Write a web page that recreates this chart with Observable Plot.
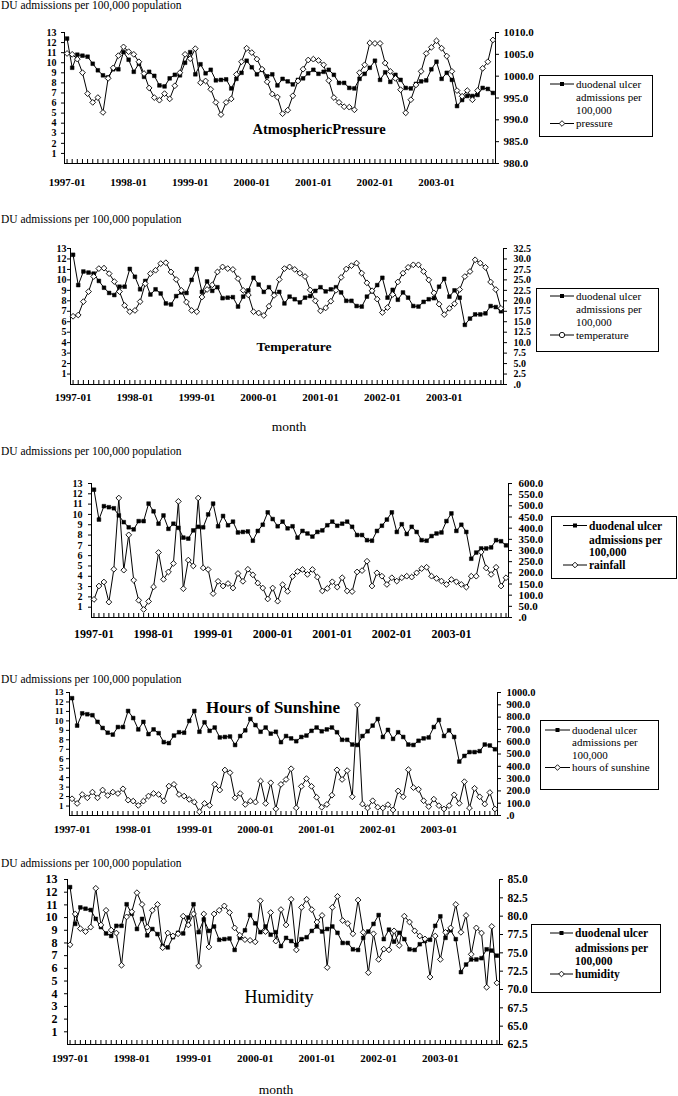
<!DOCTYPE html>
<html><head><meta charset="utf-8">
<script src="https://cdn.jsdelivr.net/npm/d3@7"></script>
<script src="https://cdn.jsdelivr.net/npm/@observablehq/plot@0.6"></script>
<style>
body{margin:0;background:#fff;}
#page{position:relative;width:678px;height:1096px;overflow:hidden;font-family:"Liberation Serif","Times New Roman",serif;color:#000;background:#fff;}
.abs{position:absolute;white-space:nowrap;line-height:1;}
</style></head><body><div id="page"></div>
<script>
// ---------- data ----------
const months = d3.range(84).map(i => `${1997 + Math.floor(i / 12)}-${String(i % 12 + 1).padStart(2, "0")}`);
const yearLabels = ["1997-01", "1998-01", "1999-01", "2000-01", "2001-01", "2002-01", "2003-01"];
const leftTicks = [1, 2, 3, 4, 5, 6, 7, 8, 9, 10, 11, 12, 13];

const duAdmissions = [
  12.4, 9.5, 10.8, 10.7, 10.6, 9.9, 9.25, 8.75, 8.55, 9.35, 9.35, 11.05,
  10.3, 9.1, 9.9, 8.6, 9.1, 8.7, 7.75, 7.65, 8.45, 8.8, 8.75, 10.0,
  11.05, 8.85, 9.85, 8.95, 9.3, 8.25, 8.3, 8.35, 7.45, 8.4, 9.0, 10.2,
  9.55, 8.85, 9.3, 8.65, 8.85, 7.75, 8.4, 8.15, 7.85, 8.3, 8.45, 8.95,
  9.3, 8.9, 9.1, 9.3, 8.8, 8.0, 8.0, 7.5, 7.45, 8.4, 8.9, 9.5,
  10.2, 8.3, 9.05, 8.1, 8.8, 8.3, 7.5, 7.45, 7.9, 8.15, 8.25, 9.35,
  10.1, 8.4, 9.0, 8.3, 5.7, 6.3, 6.7, 6.7, 6.8, 7.5, 7.4, 7.0
];
const pressure = [
  1005.2, 1005.0, 1003.9, 1000.8, 996.0, 994.0, 995.1, 991.7, 999.5, 1001.9, 1004.7, 1006.7,
  1005.6, 1005.0, 1003.3, 1000.6, 997.3, 995.1, 994.5, 996.0, 994.8, 997.8, 1000.8, 1005.0,
  1004.0, 1006.3, 998.5, 998.9, 997.0, 994.0, 991.2, 994.0, 994.8, 1000.4, 1003.3, 1006.4,
  1005.4, 1003.9, 1001.6, 998.7, 995.9, 995.2, 991.4, 992.2, 995.5, 998.9, 1001.6, 1003.7,
  1003.9, 1003.6, 1002.6, 999.0, 995.1, 994.0, 993.0, 992.9, 992.3, 1000.8, 1002.6, 1007.6,
  1007.5, 1007.5, 1003.0, 1001.1, 999.5, 996.9, 991.6, 994.6, 998.0, 1001.1, 1005.2, 1006.6,
  1008.1, 1006.4, 1004.6, 1001.1, 996.7, 995.4, 996.7, 994.6, 996.7, 1001.8, 1003.3, 1008.3
];
const temperature = [
  16.3, 16.6, 19.8, 22.2, 25.8, 27.7, 27.8, 26.5, 24.6, 22.2, 18.9, 17.4,
  17.7, 19.8, 24.1, 26.5, 27.3, 28.9, 29.1, 26.9, 25.1, 22.5, 19.7, 17.7,
  17.4, 20.9, 22.7, 23.8, 26.9, 28.1, 27.7, 27.5, 25.3, 22.5, 21.4, 17.4,
  17.1, 16.5, 18.7, 21.3, 25.1, 27.7, 28.1, 27.5, 26.6, 25.8, 22.6, 20.0,
  17.6, 18.3, 19.9, 22.5, 25.6, 27.6, 28.4, 29.0, 26.6, 24.3, 22.4, 20.4,
  17.2, 18.4, 21.5, 24.5, 26.6, 28.0, 28.6, 28.6, 27.0, 25.0, 21.9, 19.2,
  16.7, 18.2, 19.3, 22.7, 25.8, 27.0, 29.8, 29.0, 28.0, 24.5, 22.7, 18.2
];
const rainfall = [
  81, 141, 159, 69, 216, 535, 212, 370, 167, 77, 36, 72,
  137, 291, 171, 204, 242, 520, 129, 257, 231, 535, 222, 215,
  107, 162, 141, 152, 132, 197, 162, 216, 191, 154, 132, 83,
  132, 73, 147, 117, 184, 206, 215, 193, 215, 181, 119, 130,
  160, 136, 178, 119, 116, 204, 210, 252, 141, 200, 185, 148,
  178, 163, 178, 185, 181, 200, 219, 225, 185, 175, 163, 148,
  170, 160, 148, 136, 185, 185, 293, 222, 193, 225, 141, 178
];
const sunshine = [
  136, 98, 171, 144, 190, 144, 207, 163, 190, 179, 217, 125,
  117, 82, 117, 158, 179, 171, 117, 239, 253, 171, 158, 131,
  109, 30, 98, 82, 253, 207, 370, 348, 144, 179, 90, 117,
  109, 280, 98, 266, 54, 253, 293, 380, 62, 237, 300, 237,
  148, 67, 90, 165, 371, 293, 365, 152, 899, 93, 61, 120,
  67, 61, 88, 45, 200, 152, 373, 227, 213, 120, 72, 133,
  80, 53, 80, 168, 99, 275, 61, 221, 152, 93, 187, 53
];
const humidity = [
  76.1, 80.3, 78.3, 77.9, 78.5, 83.8, 78.8, 80.8, 78.1, 77.7, 73.3, 79.9,
  80.6, 83.2, 81.6, 78.5, 80.8, 81.6, 75.7, 77.7, 77.3, 77.6, 80.0, 78.8,
  80.3, 73.2, 80.3, 75.8, 80.3, 80.8, 81.4, 80.5, 78.4, 77.4, 76.8, 76.7,
  76.5, 82.1, 77.9, 80.5, 76.6, 80.9, 78.8, 82.3, 75.4, 81.2, 82.3, 80.9,
  79.2, 80.1, 73.0, 81.2, 82.7, 79.4, 79.0, 77.6, 82.2, 77.8, 72.3, 77.6,
  74.1, 75.5, 75.4, 78.0, 76.0, 80.0, 79.2, 78.0, 77.3, 76.9, 71.7, 77.3,
  74.1, 77.8, 78.4, 81.6, 77.8, 80.1, 74.8, 78.4, 77.7, 70.3, 78.6, 70.9
];
const pressureTicks = [980, 985, 990, 995, 1000, 1005, 1010];
const temperatureTicks = [0, 2.5, 5, 7.5, 10, 12.5, 15, 17.5, 20, 22.5, 25, 27.5, 30, 32.5];
const rainfallTicks = [0, 50, 100, 150, 200, 250, 300, 350, 400, 450, 500, 550, 600];
const sunshineTicks = [0, 100, 200, 300, 400, 500, 600, 700, 800, 900, 1000];
const humidityTicks = [62.5, 65, 67.5, 70, 72.5, 75, 77.5, 80, 82.5, 85];

const headingText = "DU admissions per 100,000 population";
const seriesLabel = ["duodenal ulcer", "admissions per", "100,000"];

// ---------- layout ----------
const SERIF = '"Liberation Serif","Times New Roman",serif';
const page = document.getElementById("page");

const panels = [
  {values: pressure, ticks: pressureTicks, name: "pressure", marker: "diamond",
   y13: 32, y0: 163, left: 64, right: 495, fs: 10, rfs: 11, lpad: 5, rpad: 5, xfs: 11, xpad: 14.5, headY: 6,
   title: {text: "AtmosphericPressure", x: 319, y: 130, size: 14.5, weight: "bold"},
   legend: {x: 539, y: 75, w: 114, h: 62, lx: 11, lw: 24, tx: 37, rows: [9, 22.5, 35.5, 48.5], fs: 11, weight: "normal"}},
  {values: temperature, ticks: temperatureTicks, name: "temperature", marker: "circle",
   y13: 248, y0: 384, left: 70, right: 503, fs: 10, rfs: 10, lpad: 1, rpad: 7, xfs: 11, xpad: 8.5, headY: 220,
   title: {text: "Temperature", x: 294, y: 347, size: 13.5, weight: "bold"},
   month: {x: 289, y: 427},
   legend: {x: 536, y: 288, w: 123, h: 64, lx: 14, lw: 24, tx: 40, rows: [8, 21, 34, 47], fs: 11, weight: "normal"}},
  {values: rainfall, ticks: rainfallTicks, name: "rainfall", marker: "diamond",
   y13: 483, y0: 617, left: 91, right: 508, fs: 10, rfs: 11, lpad: 6, rpad: 7, xfs: 12, xpad: 11.5, headY: 452,
   legend: {x: 551, y: 516, w: 126, h: 63, lx: 12, lw: 24, tx: 38, rows: [9.5, 23.5, 36, 49], fs: 11.5, weight: "bold"}},
  {values: sunshine, ticks: sunshineTicks, name: "hours of sunshine", marker: "diamond",
   y13: 692, y0: 815, left: 69, right: 497, fs: 9, rfs: 10.5, lpad: 3, rpad: 6, xfs: 11, xpad: 9.5, headY: 680,
   title: {text: "Hours of Sunshine", x: 273, y: 708, size: 17, weight: "bold"},
   legend: {x: 540, y: 720, w: 119, h: 70, lx: 5, lw: 25, tx: 32, rows: [10, 22.5, 35, 47.5], fs: 11, weight: "normal"}},
  {values: humidity, ticks: humidityTicks, name: "humidity", marker: "diamond",
   y13: 879, y0: 1044, left: 67, right: 499, fs: 12, rfs: 11.5, lpad: 7, rpad: 5, xfs: 11, xpad: 10, headY: 864,
   title: {text: "Humidity", x: 279, y: 998, size: 18, weight: "normal"},
   month: {x: 276, y: 1090},
   legend: {x: 531, y: 924, w: 130, h: 69, lx: 19, lw: 23, tx: 44, rows: [9, 24, 37, 50], fs: 11.5, weight: "bold"}}
];

const fmtRight = v => Math.abs(v) < 1e-6 ? ".0" : v.toFixed(1);

function addText(txt, x, y, {size = 11, weight = "normal", anchor = "start"} = {}) {
  const d = document.createElement("div");
  d.className = "abs";
  d.textContent = txt;
  d.style.fontSize = size + "px";
  d.style.fontWeight = weight;
  d.style.top = (y - size * 0.55) + "px";
  d.style.left = x + "px";
  if (anchor === "middle") d.style.transform = "translateX(-50%)";
  page.appendChild(d);
}

function markerPath(kind, size) {
  return d3.symbol(kind === "circle" ? d3.symbolCircle : d3.symbolDiamond2, size)();
}

function drawPanel(p) {
  const lo = p.ticks[0], hi = p.ticks[p.ticks.length - 1];
  const toDU = v => (v - lo) / (hi - lo) * 13;
  const rows = months.map((m, i) => ({month: m, du: duAdmissions[i], v: p.values[i]}));
  const mt = 12, mb = 32;
  const chart = Plot.plot({
    width: 678,
    height: p.y0 - p.y13 + mt + mb,
    marginTop: mt, marginBottom: mb, marginLeft: p.left, marginRight: 678 - p.right,
    style: {fontFamily: SERIF, fontSize: p.fs + "px", fontWeight: "bold", background: "transparent", color: "#000", overflow: "visible"},
    x: {type: "point", domain: months, padding: 0.5, round: false, axis: null},
    y: {domain: [0, 13], axis: null},
    marks: [
      Plot.frame({anchor: "left", stroke: "#000"}),
      Plot.frame({anchor: "right", stroke: "#000"}),
      Plot.frame({anchor: "bottom", stroke: "#000"}),
      Plot.ruleX(months, {y1: 0, y2: 0, insetTop: -4, stroke: "#000"}),
      Plot.axisY(leftTicks, {anchor: "left", label: null, tickSize: 3, tickPadding: p.lpad, fontSize: p.fs}),
      Plot.axisY(p.ticks.map(toDU), {anchor: "right", label: null, tickSize: 3, tickPadding: p.rpad, textAnchor: "start",
        fontSize: p.rfs, tickFormat: d => fmtRight(lo + d * (hi - lo) / 13)}),
      Plot.axisX(yearLabels, {anchor: "bottom", label: null, tickSize: 0, tickPadding: p.xpad, fontSize: p.xfs}),
      Plot.line(rows, {x: "month", y: "du", stroke: "#000", strokeWidth: 1}),
      Plot.dot(rows, {x: "month", y: "du", symbol: "square", r: 2.1, fill: "#000", stroke: "#000", strokeWidth: 0.5}),
      Plot.line(rows, {x: "month", y: d => toDU(d.v), stroke: "#000", strokeWidth: 1}),
      Plot.dot(rows, {x: "month", y: d => toDU(d.v), symbol: "diamond2", r: 2.6, fill: "#fff", stroke: "#000", strokeWidth: 0.9})
    ]
  });
  chart.style.position = "absolute";
  chart.style.left = "0px";
  chart.style.top = (p.y13 - mt) + "px";
  page.appendChild(chart);

  addText(headingText, 1, p.headY, {size: 11.5});
  if (p.title) addText(p.title.text, p.title.x, p.title.y, {size: p.title.size, weight: p.title.weight, anchor: "middle"});
  if (p.month) addText("month", p.month.x, p.month.y, {size: 13.5, anchor: "middle"});

  // legend
  const L = p.legend;
  const svg = d3.select(page).append("svg")
    .attr("width", L.w).attr("height", L.h)
    .style("position", "absolute").style("left", L.x + "px").style("top", L.y + "px")
    .style("overflow", "visible")
    .style("font-family", SERIF).style("font-size", L.fs + "px").style("font-weight", L.weight);
  svg.append("rect").attr("x", 0.5).attr("y", 0.5).attr("width", L.w - 1).attr("height", L.h - 1)
    .attr("fill", "#fff").attr("stroke", "#000").attr("stroke-width", 1);
  const [r1, r2, r3, r4] = L.rows;
  svg.append("line").attr("x1", L.lx).attr("x2", L.lx + L.lw).attr("y1", r1).attr("y2", r1).attr("stroke", "#000");
  svg.append("rect").attr("x", L.lx + L.lw / 2 - 2).attr("y", r1 - 2).attr("width", 4).attr("height", 4).attr("fill", "#000");
  svg.append("line").attr("x1", L.lx).attr("x2", L.lx + L.lw).attr("y1", r4).attr("y2", r4).attr("stroke", "#000");
  svg.append("path").attr("d", markerPath(p.marker, p.marker === "circle" ? 22 : 20))
    .attr("transform", `translate(${L.lx + L.lw / 2},${r4})`)
    .attr("fill", "#fff").attr("stroke", "#000").attr("stroke-width", 0.9);
  [seriesLabel[0], seriesLabel[1], seriesLabel[2], p.name].forEach((t, i) => {
    svg.append("text").attr("x", L.tx).attr("y", [r1, r2, r3, r4][i]).attr("dy", "0.35em").text(t);
  });
}

panels.forEach(drawPanel);
</script>
</body></html>
